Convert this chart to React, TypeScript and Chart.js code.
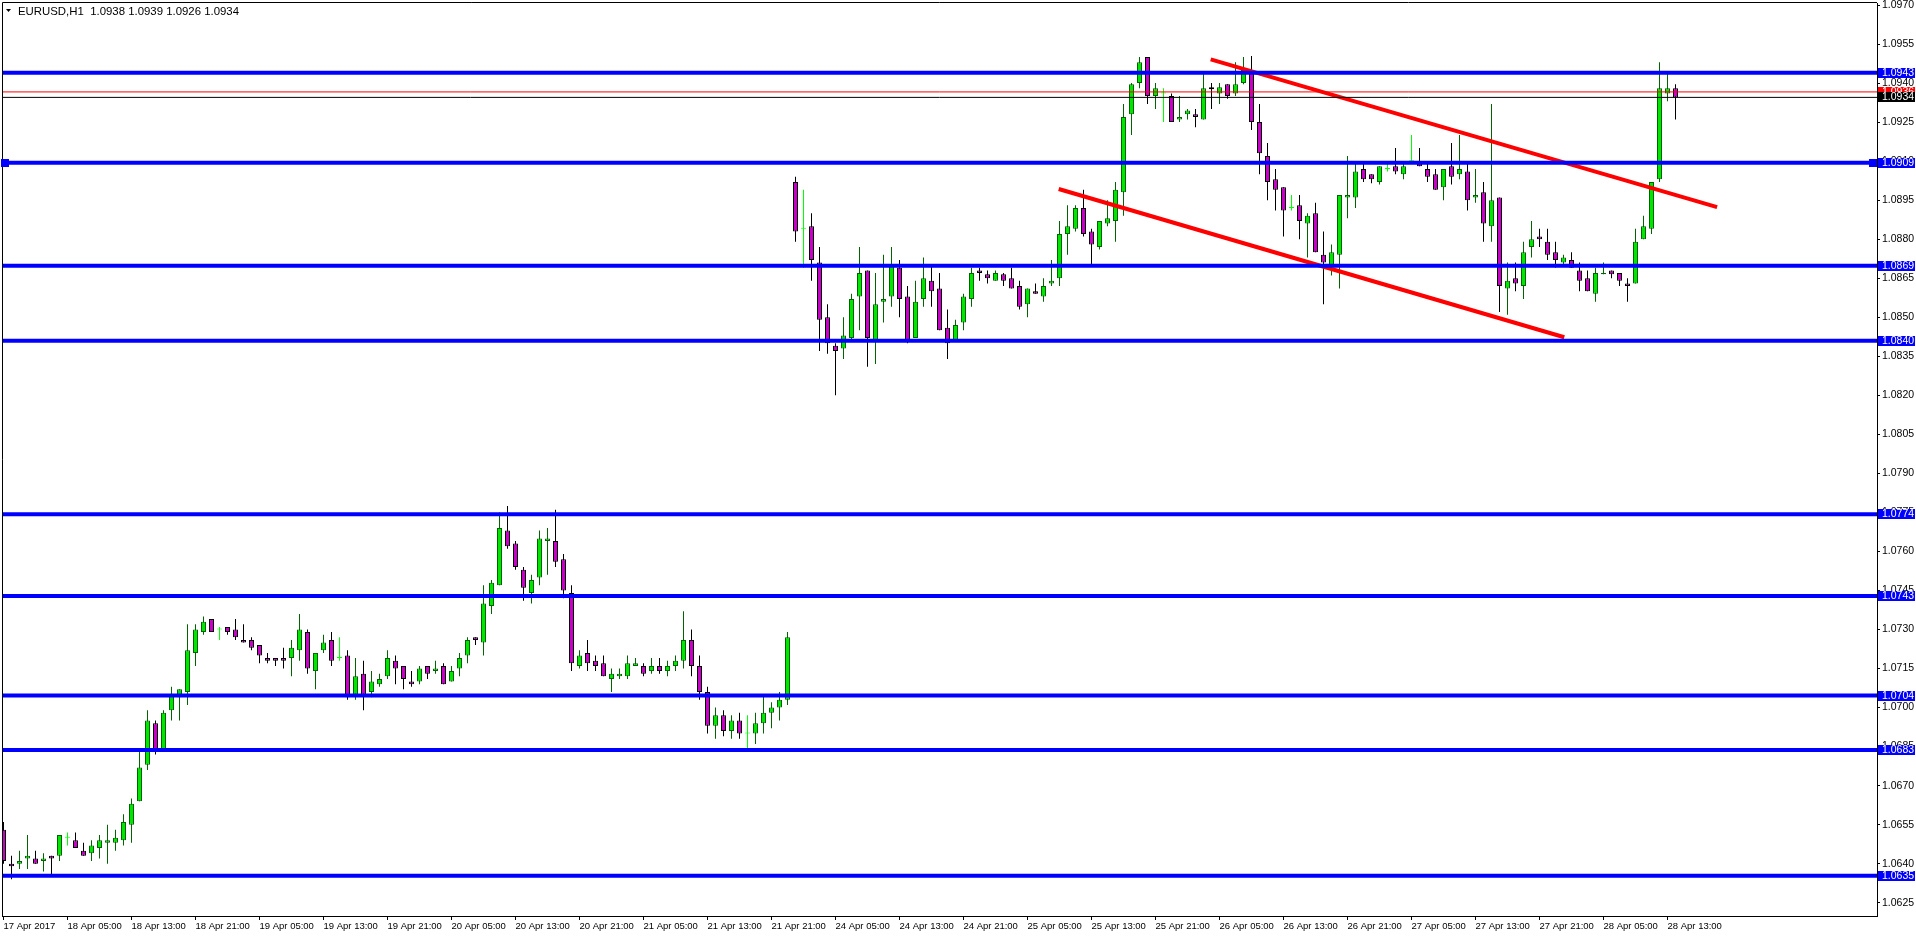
import React, { useEffect, useRef } from 'react';
import { Chart, registerables } from 'chart.js';

Chart.register(...registerables);

// ---- EURUSD H1 candles (index 0 = 17 Apr 21:00) ----
const opens = [
  1.0653, 1.0640, 1.0640, 1.0642, 1.0642, 1.0641, 1.0643, 1.0643, 1.0650, 1.0649,
  1.0645, 1.0644, 1.0646, 1.0648, 1.0648, 1.0649, 1.0655, 1.0664, 1.0678, 1.0694,
  1.0683, 1.0699, 1.0704, 1.0706, 1.0721, 1.0729, 1.0734, 1.0730, 1.0731, 1.0730,
  1.0726, 1.0726, 1.0724, 1.0719, 1.0719, 1.0719, 1.0719, 1.0722, 1.0729, 1.0714,
  1.0722, 1.0726, 1.0719, 1.0720, 1.0705, 1.0713, 1.0706, 1.0709, 1.0712, 1.0718,
  1.0716, 1.0710, 1.0710, 1.0716, 1.0714, 1.0716, 1.0710, 1.0715, 1.0720, 1.0727,
  1.0725, 1.0739, 1.0747, 1.0768, 1.0763, 1.0753, 1.0744, 1.0750, 1.0764, 1.0764,
  1.0757, 1.0744, 1.0716, 1.0721, 1.0718, 1.0717, 1.0711, 1.0712, 1.0712, 1.0716,
  1.0716, 1.0714, 1.0716, 1.0714, 1.0716, 1.0718, 1.0726, 1.0716, 1.0706, 1.0693,
  1.0697, 1.0691, 1.0695, 1.0690, 1.0690, 1.0694, 1.0698, 1.0700, 1.0703, 1.0902,
  1.0884, 1.0885, 1.0871, 1.0850, 1.0839, 1.0838, 1.0842, 1.0858, 1.0868, 1.0841,
  1.0856, 1.0858, 1.0869, 1.0858, 1.0842, 1.0857, 1.0864, 1.0861, 1.0846, 1.0841,
  1.0848, 1.0857, 1.0868, 1.08665, 1.0864, 1.08665, 1.0865, 1.0862, 1.0855, 1.0860,
  1.0858, 1.0863, 1.0865, 1.0882, 1.0884, 1.0892, 1.0883, 1.0877, 1.0886, 1.0887,
  1.0898, 1.0928, 1.0940, 1.0950, 1.0935, 1.0936, 1.0935, 1.0926, 1.0928, 1.0928,
  1.0926, 1.09384, 1.0936, 1.09395, 1.0936, 1.0940, 1.09445, 1.0925, 1.0912, 1.0903,
  1.0900, 1.0892, 1.0893, 1.0886, 1.0890, 1.0874, 1.0870, 1.0874, 1.0896, 1.0896,
  1.0907, 1.0905, 1.0902, 1.0907, 1.0908, 1.0905, 1.0910, 1.0910, 1.0907, 1.0905,
  1.0900, 1.0908, 1.0905, 1.0906, 1.0896, 1.0898, 1.0885, 1.0896, 1.0861, 1.0865,
  1.0862, 1.0877, 1.0881, 1.0879, 1.0875, 1.0871, 1.0872, 1.0868, 1.0865, 1.0859,
  1.08665, 1.0868, 1.0867, 1.0863, 1.0863, 1.0880, 1.0884, 1.0903, 1.0936, 1.0938,
];
const highs = [
  1.0656, 1.0643, 1.0645, 1.0651, 1.0645, 1.0644, 1.0643, 1.0651, 1.0652, 1.0652,
  1.0648, 1.0649, 1.0651, 1.0655, 1.0653, 1.0659, 1.0665, 1.0684, 1.0699, 1.0695,
  1.0699, 1.0708, 1.0707, 1.0732, 1.0732, 1.0735, 1.0734, 1.0731, 1.0731, 1.0734,
  1.0732, 1.0727, 1.0724, 1.0721, 1.0719, 1.0723, 1.0726, 1.0736, 1.0730, 1.0721,
  1.0728, 1.0729, 1.0727, 1.0722, 1.0719, 1.0718, 1.0714, 1.0713, 1.0722, 1.0720,
  1.0716, 1.0714, 1.0716, 1.0716, 1.0718, 1.0717, 1.0716, 1.0721, 1.0727, 1.0727,
  1.0747, 1.0749, 1.0775, 1.07775, 1.0764, 1.0754, 1.0751, 1.0768, 1.0769, 1.0776,
  1.0759, 1.0747, 1.0722, 1.0726, 1.0720, 1.0720, 1.0715, 1.0715, 1.0720, 1.0719,
  1.0717, 1.0719, 1.0719, 1.0718, 1.0720, 1.0737, 1.0730, 1.0720, 1.0708, 1.0700,
  1.0699, 1.0697, 1.0698, 1.0697, 1.0698, 1.0705, 1.0702, 1.0706, 1.0729, 1.0904,
  1.0899, 1.0890, 1.0877, 1.0855, 1.0840, 1.0850, 1.0859, 1.0877, 1.0868, 1.0867,
  1.0874, 1.0877, 1.0872, 1.0862, 1.0864, 1.0873, 1.0870, 1.0867, 1.0853, 1.0849,
  1.0859, 1.0869, 1.0869, 1.0868, 1.0868, 1.0867, 1.0869, 1.0864, 1.0861, 1.0863,
  1.0865, 1.0872, 1.0887, 1.0893, 1.0893, 1.0899, 1.0884, 1.0887, 1.0895, 1.0902,
  1.0932, 1.0940, 1.0950, 1.0950, 1.0940, 1.0938, 1.0936, 1.0935, 1.0930, 1.0930,
  1.09445, 1.0940, 1.0940, 1.09395, 1.0948, 1.0950, 1.09504, 1.0932, 1.0917, 1.0907,
  1.0900, 1.0897, 1.0897, 1.0890, 1.0894, 1.0883, 1.0878, 1.0897, 1.0912, 1.0910,
  1.09096, 1.0905, 1.0908, 1.0910, 1.0915, 1.0910, 1.0920, 1.0915, 1.0910, 1.0907,
  1.0907, 1.0917, 1.0920, 1.0910, 1.0907, 1.0902, 1.0932, 1.0896, 1.0871, 1.0871,
  1.0879, 1.0887, 1.0884, 1.0884, 1.0879, 1.0874, 1.0875, 1.0871, 1.0868, 1.0869,
  1.0871, 1.0868, 1.0867, 1.0865, 1.0884, 1.0889, 1.0902, 1.0948, 1.09445, 1.09395,
];
const lows = [
  1.0640, 1.0634, 1.0638, 1.0638, 1.0640, 1.0637, 1.0636, 1.0641, 1.0647, 1.0646,
  1.0643, 1.0641, 1.0642, 1.0640, 1.0645, 1.0647, 1.0648, 1.0664, 1.0676, 1.0682,
  1.0683, 1.0695, 1.0695, 1.0701, 1.0716, 1.0728, 1.0729, 1.0726, 1.0728, 1.0726,
  1.0725, 1.0722, 1.0717, 1.0717, 1.0716, 1.0715, 1.0712, 1.0718, 1.0713, 1.0707,
  1.0721, 1.0716, 1.0718, 1.0703, 1.0703, 1.0699, 1.0704, 1.0708, 1.0711, 1.0709,
  1.0707, 1.0708, 1.0709, 1.0711, 1.0713, 1.0709, 1.0710, 1.0712, 1.0717, 1.0724,
  1.0720, 1.0736, 1.0747, 1.0761, 1.0753, 1.0741, 1.0740, 1.0747, 1.0751, 1.0754,
  1.0742, 1.0714, 1.0715, 1.0714, 1.0714, 1.0712, 1.0706, 1.0711, 1.0711, 1.0716,
  1.0712, 1.0713, 1.0713, 1.0712, 1.0714, 1.0715, 1.0712, 1.0703, 1.0690, 1.0688,
  1.0689, 1.0688, 1.0688, 1.0683, 1.0686, 1.0690, 1.0692, 1.0695, 1.0701, 1.0879,
  1.0869, 1.0864, 1.0837, 1.0836, 1.0820, 1.0834, 1.0841, 1.0845, 1.0831, 1.0832,
  1.0848, 1.0854, 1.0850, 1.0840, 1.0842, 1.0854, 1.0854, 1.0845, 1.0834, 1.0841,
  1.0845, 1.0854, 1.0864, 1.0863, 1.0864, 1.0862, 1.0861, 1.0853, 1.0850, 1.0859,
  1.0856, 1.0862, 1.0862, 1.0874, 1.0883, 1.0881, 1.0870, 1.0876, 1.0885, 1.0879,
  1.0889, 1.0920, 1.0938, 1.0932, 1.0930, 1.0925, 1.0925, 1.0925, 1.0926, 1.0923,
  1.0926, 1.0930, 1.0932, 1.0934, 1.0935, 1.09395, 1.0922, 1.0905, 1.0895, 1.0891,
  1.0881, 1.0891, 1.0880, 1.0873, 1.0875, 1.0855, 1.0866, 1.0861, 1.0888, 1.0892,
  1.0902, 1.09015, 1.0901, 1.0906, 1.0905, 1.0903, 1.0910, 1.0908, 1.0902, 1.0899,
  1.0895, 1.0901, 1.0903, 1.0891, 1.0894, 1.0879, 1.0879, 1.0852, 1.0851, 1.0860,
  1.0857, 1.0873, 1.0877, 1.0872, 1.0869, 1.0870, 1.0869, 1.0860, 1.0860, 1.0856,
  1.08665, 1.0865, 1.0862, 1.0856, 1.0863, 1.0880, 1.0882, 1.0902, 1.0933, 1.0926,
];
const closes = [
  1.0641, 1.0639, 1.0641, 1.0643, 1.0640, 1.0642, 1.0642, 1.0651, 1.0650, 1.0646,
  1.0643, 1.0647, 1.0649, 1.0649, 1.0650, 1.0656, 1.0663, 1.0677, 1.0695, 1.0684,
  1.0698, 1.0705, 1.0707, 1.0722, 1.0730, 1.0733, 1.0729, 1.0730, 1.0729, 1.0727,
  1.0725, 1.0723, 1.0720, 1.0718, 1.0718, 1.0718, 1.0723, 1.0730, 1.0715, 1.0721,
  1.0725, 1.0718, 1.0719, 1.0704, 1.0712, 1.0705, 1.0710, 1.0711, 1.0719, 1.0715,
  1.0711, 1.0709, 1.0715, 1.0713, 1.0715, 1.0709, 1.0714, 1.0719, 1.0726, 1.0726,
  1.0740, 1.0748, 1.0769, 1.0762, 1.0754, 1.0746, 1.0749, 1.0765, 1.0765, 1.0756,
  1.0745, 1.0717, 1.0720, 1.0717, 1.0716, 1.0712, 1.0713, 1.0713, 1.0717, 1.0717,
  1.0713, 1.0716, 1.0714, 1.0716, 1.0718, 1.0726, 1.0716, 1.0706, 1.0693, 1.0697,
  1.0691, 1.0695, 1.0690, 1.0690, 1.0694, 1.0698, 1.0700, 1.0703, 1.0727, 1.0883,
  1.0884, 1.0872, 1.0849, 1.0840, 1.0837, 1.0843, 1.0857, 1.0867, 1.0842, 1.0855,
  1.0857, 1.0870, 1.0857, 1.0841, 1.0856, 1.0865, 1.0860, 1.0845, 1.0840, 1.0847,
  1.0858, 1.0867, 1.0867, 1.0865, 1.0867, 1.0864, 1.0861, 1.0854, 1.0861, 1.0859,
  1.0862, 1.0864, 1.0882, 1.0885, 1.0892, 1.0882, 1.0878, 1.0887, 1.0888, 1.0899,
  1.0927, 1.09395, 1.0948, 1.0935, 1.0938, 1.0936, 1.0925, 1.0927, 1.09295, 1.0927,
  1.0938, 1.09376, 1.09384, 1.0935, 1.09395, 1.0945, 1.0925, 1.0913, 1.0902, 1.0899,
  1.0891, 1.0892, 1.0887, 1.0889, 1.0875, 1.0871, 1.0875, 1.0897, 1.0897, 1.0906,
  1.0903, 1.0903, 1.0908, 1.0907, 1.0906, 1.0908, 1.0910, 1.0908, 1.0904, 1.0899,
  1.0907, 1.0904, 1.0907, 1.0895, 1.0897, 1.0886, 1.0895, 1.0862, 1.0864, 1.0863,
  1.0875, 1.0880, 1.0880, 1.0874, 1.0872, 1.0873, 1.0869, 1.0864, 1.0860, 1.0867,
  1.0867, 1.08665, 1.0864, 1.0862, 1.0879, 1.0885, 1.0902, 1.0938, 1.0938, 1.09345,
];

// ---- axis labels ----
const timeTicks = [0, 8, 16, 24, 32, 40, 48, 56, 64, 72, 80, 88, 96, 104, 112, 120, 128, 136, 144, 152, 160, 168, 176, 184, 192, 200, 208];
const timeLabels = [
  '17 Apr 2017', '18 Apr 05:00', '18 Apr 13:00', '18 Apr 21:00', '19 Apr 05:00', '19 Apr 13:00', '19 Apr 21:00',
  '20 Apr 05:00', '20 Apr 13:00', '20 Apr 21:00', '21 Apr 05:00', '21 Apr 13:00', '21 Apr 21:00', '24 Apr 05:00',
  '24 Apr 13:00', '24 Apr 21:00', '25 Apr 05:00', '25 Apr 13:00', '25 Apr 21:00', '26 Apr 05:00', '26 Apr 13:00',
  '26 Apr 21:00', '27 Apr 05:00', '27 Apr 13:00', '27 Apr 21:00', '28 Apr 05:00', '28 Apr 13:00',
];
const priceTicks = [
  1.0970, 1.0955, 1.0940, 1.0925, 1.0910, 1.0895, 1.0880, 1.0865, 1.0850, 1.0835, 1.0820, 1.0805,
  1.0790, 1.0775, 1.0760, 1.0745, 1.0730, 1.0715, 1.0700, 1.0685, 1.0670, 1.0655, 1.0640, 1.0625,
];

// ---- drawn objects ----
const levelPrices = [1.09440, 1.09094, 1.08698, 1.08410, 1.07743, 1.07429, 1.07046, 1.06837, 1.06354];
const levelLabels = ['1.0943', '1.0909', '1.0869', '1.0840', '1.0774', '1.0743', '1.0704', '1.0683', '1.0635'];
const trendUpper = [{ x: 150.9, y: 1.09491 }, { x: 214.2, y: 1.08923 }];
const trendLower = [{ x: 131.9, y: 1.08993 }, { x: 195.1, y: 1.08423 }];
const askPrice = 1.09366;
const askLabel = '1.0936';
const bidPrice = 1.09345;
const bidLabel = '1.0934';
const titleText = 'EURUSD,H1  1.0938 1.0939 1.0926 1.0934';

const X_MIN = -0.1875;
const X_MAX = 234.1875;
const Y_MIN = 1.061989;
const Y_MAX = 1.097077;

const BULL_FILL = '#00e600';
const BULL_EDGE = '#006400';
const BEAR_FILL = '#c800c8';
const BEAR_EDGE = '#000000';
const DOJI = '#00ff00';
const FONT_X = { family: '"Liberation Sans", Arial, sans-serif', size: 9.5 };
const FONT_Y = { family: '"Liberation Sans", Arial, sans-serif', size: 10.5 };

const overlayPlugin = {
  id: 'mt4overlay',
  afterDraw(chart: any) {
    const { ctx, chartArea: a, scales } = chart;
    const ys = scales.y;
    ctx.save();
    // left / top frame
    ctx.strokeStyle = '#000';
    ctx.lineWidth = 1;
    ctx.beginPath();
    ctx.moveTo(a.left + 0.5, a.bottom);
    ctx.lineTo(a.left + 0.5, a.top - 0.5);
    ctx.lineTo(a.right, a.top - 0.5);
    ctx.stroke();
    // title
    ctx.fillStyle = '#000';
    ctx.beginPath();
    ctx.moveTo(6, 9);
    ctx.lineTo(11, 9);
    ctx.lineTo(8.5, 12);
    ctx.closePath();
    ctx.fill();
    ctx.font = '11.4px "Liberation Sans", Arial, sans-serif';
    ctx.textBaseline = 'middle';
    ctx.textAlign = 'left';
    ctx.fillText(titleText, 18, 11.5);
    // price boxes
    ctx.font = '10.5px "Liberation Sans", Arial, sans-serif';
    const box = (p: number, label: string, color: string) => {
      const py = Math.round(ys.getPixelForValue(p));
      ctx.fillStyle = color;
      ctx.fillRect(a.right + 1, py - 5, 37, 10);
      ctx.fillStyle = '#fff';
      ctx.fillText(label, a.right + 5, py + 0.5);
    };
    levelPrices.forEach((p, k) => box(p, levelLabels[k], '#0000ff'));
    box(askPrice, askLabel, '#ff0000');
    box(bidPrice, bidLabel, '#000000');
    // selection handles on the 1.0909 level
    const hy = Math.round(ys.getPixelForValue(levelPrices[1]));
    ctx.fillStyle = '#0000ff';
    ctx.fillRect(1, hy - 4, 8, 8);
    ctx.fillRect(a.right - 8, hy - 4, 8, 8);
    ctx.restore();
  },
};

export default function App() {
  const ref = useRef<HTMLCanvasElement | null>(null);
  useEffect(() => {
    if (!ref.current) return;
    const kind = opens.map((o, i) => (closes[i] > o ? 1 : closes[i] < o ? -1 : 0));
    const bodyFill = kind.map((k) => (k > 0 ? BULL_FILL : k < 0 ? BEAR_FILL : DOJI));
    const bodyEdge = kind.map((k) => (k > 0 ? BULL_EDGE : k < 0 ? BEAR_EDGE : DOJI));
    const wickColor = kind.map((k) => (k > 0 ? BULL_EDGE : k < 0 ? BEAR_EDGE : DOJI));
    const bodies = opens.map((o, i) => ({ x: i, y: [o, closes[i]] }));
    const wicks = lows.map((l, i) => ({ x: i, y: [l, highs[i]] }));

    const hline = (p: number, color: string, width: number) => ({
      type: 'line' as const,
      data: [{ x: X_MIN, y: p }, { x: X_MAX, y: p }],
      borderColor: color,
      borderWidth: width,
      pointRadius: 0,
      clip: 0,
      order: 0,
    });

    const chart = new Chart(ref.current, {
      type: 'bar',
      data: {
        datasets: [
          ...levelPrices.map((p) => hline(p, '#0000ff', 4)),
          hline(askPrice, '#ff0000', 1),
          hline(bidPrice, '#000000', 1),
          { type: 'line', data: trendUpper, borderColor: '#ff0000', borderWidth: 4, pointRadius: 0, clip: 0, order: 0 },
          { type: 'line', data: trendLower, borderColor: '#ff0000', borderWidth: 4, pointRadius: 0, clip: 0, order: 0 },
          {
            type: 'bar', data: bodies, backgroundColor: bodyFill, borderColor: bodyEdge, borderWidth: 1,
            borderSkipped: false, barThickness: 5, grouped: false, minBarLength: 1, inflateAmount: 0, order: 5,
          },
          {
            type: 'bar', data: wicks, backgroundColor: wickColor, borderWidth: 0,
            barThickness: 1, grouped: false, inflateAmount: 0, order: 6,
          },
        ] as any,
      },
      options: {
        responsive: false,
        animation: false,
        devicePixelRatio: 1,
        layout: { padding: { left: 2, top: 3, right: 0, bottom: 0 } },
        plugins: { legend: { display: false }, tooltip: { enabled: false }, title: { display: false } },
        scales: {
          x: {
            type: 'linear', min: X_MIN, max: X_MAX, offset: false, position: 'bottom',
            afterBuildTicks: (s: any) => { s.ticks = timeTicks.map((v) => ({ value: v })); },
            afterFit: (s: any) => { s.height = 21; s.paddingLeft = 0; s.paddingRight = 0; },
            ticks: {
              autoSkip: false, maxRotation: 0, minRotation: 0, align: 'start', padding: 1, color: '#000', font: FONT_X,
              callback: (v: any) => timeLabels[timeTicks.indexOf(Number(v))] ?? '',
            },
            grid: { drawOnChartArea: false, drawTicks: true, tickLength: 4, tickColor: '#000', offset: false },
            border: { display: true, color: '#000', width: 1 },
          },
          y: {
            type: 'linear', position: 'right', min: Y_MIN, max: Y_MAX,
            afterBuildTicks: (s: any) => { s.ticks = priceTicks.map((v) => ({ value: v })); },
            afterFit: (s: any) => { s.width = 39; s.paddingTop = 0; s.paddingBottom = 0; },
            ticks: { autoSkip: false, padding: 2, color: '#000', font: FONT_Y, callback: (v: any) => Number(v).toFixed(4) },
            grid: { drawOnChartArea: false, drawTicks: true, tickLength: 3, tickColor: '#000' },
            border: { display: true, color: '#000', width: 1 },
          },
        },
      } as any,
      plugins: [overlayPlugin],
    });
    return () => chart.destroy();
  }, []);

  return (
    <div style={{ position: 'fixed', left: 0, top: 0, width: 1916, height: 937, background: '#fff' }}>
      <canvas ref={ref} width={1916} height={937} style={{ display: 'block' }} />
    </div>
  );
}
